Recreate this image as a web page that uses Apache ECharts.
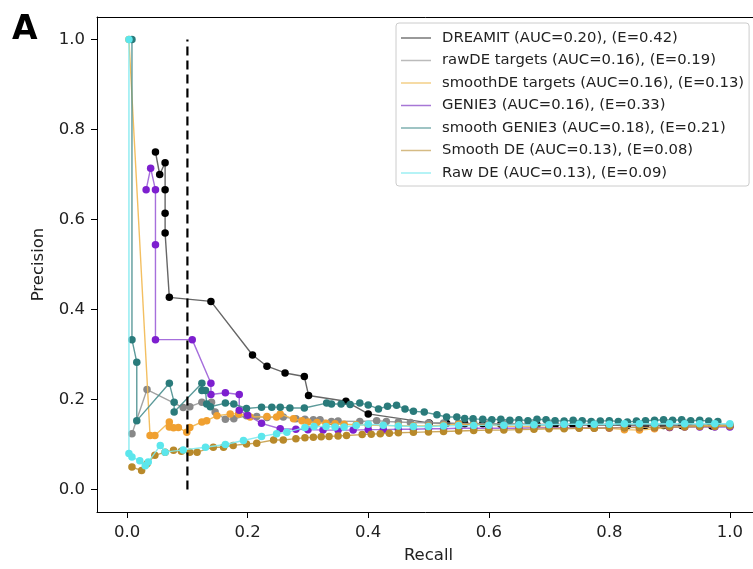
<!DOCTYPE html>
<html>
<head>
<meta charset="utf-8">
<script src="https://cdn.jsdelivr.net/npm/echarts@6/dist/echarts.min.js"></script>
<style>
html,body{margin:0;padding:0;background:#fff;}
#chart{width:753px;height:569px;}
</style>
</head>
<body>
<div id="chart"></div>
<script>
const tickValues = [0, 0.2, 0.4, 0.6, 0.8, 1.0];
const seriesNames = [
  'DREAMIT (AUC=0.20), (E=0.42)',
  'rawDE targets (AUC=0.16), (E=0.19)',
  'smoothDE targets (AUC=0.16), (E=0.13)',
  'GENIE3 (AUC=0.16), (E=0.33)',
  'smooth GENIE3 (AUC=0.18), (E=0.21)',
  'Smooth DE (AUC=0.13), (E=0.08)',
  'Raw DE (AUC=0.13), (E=0.09)'
];
const dreamit = [[0.047,0.75],[0.054,0.70],[0.063,0.726],[0.063,0.666],[0.063,0.614],[0.063,0.57],[0.070,0.427],[0.139,0.418],[0.208,0.299],[0.232,0.274],[0.262,0.259],[0.294,0.251],[0.301,0.209],[0.363,0.196],[0.400,0.168],[0.501,0.148],[0.53,0.147],[0.56,0.146],[0.59,0.146],[0.62,0.145],[0.65,0.145],[0.68,0.144],[0.71,0.144],[0.74,0.143],[0.77,0.143],[0.80,0.143],[0.83,0.142],[0.86,0.142],[0.89,0.142],[0.92,0.142],[0.95,0.141],[0.97,0.141],[1.0,0.141]];
const rawDETargets = [[0.008,0.124],[0.033,0.222],[0.093,0.182],[0.104,0.184],[0.124,0.194],[0.14,0.194],[0.146,0.172],[0.163,0.156],[0.177,0.157],[0.198,0.164],[0.215,0.162],[0.232,0.16],[0.259,0.161],[0.28,0.157],[0.295,0.156],[0.309,0.155],[0.32,0.155],[0.339,0.151],[0.35,0.152],[0.386,0.151],[0.414,0.153],[0.43,0.151],[0.45,0.15],[0.47,0.149],[0.5,0.148],[0.525,0.148],[0.55,0.147],[0.575,0.147],[0.6,0.146],[0.625,0.146],[0.65,0.146],[0.675,0.145],[0.7,0.145],[0.725,0.145],[0.75,0.145],[0.775,0.145],[0.8,0.145],[0.825,0.144],[0.85,0.144],[0.875,0.144],[0.9,0.144],[0.925,0.144],[0.95,0.144],[0.975,0.144],[1.0,0.144]];
const smoothDETargets = [[0.003,1.0],[0.038,0.12],[0.046,0.12],[0.07,0.15],[0.07,0.139],[0.077,0.137],[0.085,0.138],[0.099,0.127],[0.104,0.138],[0.124,0.15],[0.132,0.153],[0.149,0.164],[0.171,0.168],[0.185,0.168],[0.204,0.161],[0.232,0.162],[0.248,0.161],[0.254,0.168],[0.276,0.157],[0.29,0.153],[0.3,0.15],[0.315,0.149],[0.33,0.147],[0.345,0.146],[0.36,0.145],[0.38,0.144],[0.4,0.143],[0.425,0.142],[0.45,0.142],[0.475,0.141],[0.5,0.141],[0.525,0.143],[0.55,0.145],[0.575,0.144],[0.6,0.143],[0.625,0.141],[0.65,0.14],[0.675,0.139],[0.7,0.138],[0.725,0.137],[0.75,0.137],[0.775,0.136],[0.8,0.136],[0.825,0.133],[0.85,0.132],[0.875,0.135],[0.9,0.138],[0.925,0.14],[0.95,0.141],[0.975,0.142],[1.0,0.143]];
const genie3 = [[0.0315,0.666],[0.039,0.714],[0.047,0.666],[0.047,0.544],[0.047,0.333],[0.108,0.333],[0.139,0.236],[0.139,0.211],[0.163,0.215],[0.186,0.211],[0.186,0.176],[0.2,0.165],[0.223,0.147],[0.254,0.135],[0.28,0.134],[0.3,0.133],[0.325,0.132],[0.35,0.132],[0.375,0.132],[0.4,0.133],[0.425,0.133],[0.45,0.134],[0.475,0.134],[0.5,0.135],[0.525,0.135],[0.55,0.136],[0.575,0.136],[0.6,0.136],[0.625,0.136],[0.65,0.136],[0.675,0.137],[0.7,0.137],[0.725,0.137],[0.75,0.137],[0.775,0.137],[0.8,0.137],[0.825,0.138],[0.85,0.138],[0.875,0.138],[0.9,0.138],[0.925,0.139],[0.95,0.139],[0.975,0.139],[1.0,0.139]];
const smoothGenie3 = [[0.008,1.0],[0.008,0.333],[0.016,0.283],[0.016,0.153],[0.07,0.236],[0.078,0.194],[0.078,0.172],[0.124,0.236],[0.124,0.22],[0.13,0.22],[0.132,0.19],[0.138,0.184],[0.163,0.192],[0.177,0.19],[0.198,0.18],[0.223,0.183],[0.24,0.183],[0.254,0.183],[0.27,0.181],[0.294,0.181],[0.331,0.192],[0.339,0.19],[0.355,0.19],[0.37,0.189],[0.386,0.192],[0.4,0.188],[0.417,0.179],[0.432,0.185],[0.447,0.187],[0.461,0.179],[0.475,0.174],[0.493,0.172],[0.514,0.166],[0.53,0.161],[0.547,0.161],[0.56,0.158],[0.574,0.157],[0.59,0.156],[0.605,0.155],[0.62,0.156],[0.635,0.154],[0.65,0.155],[0.665,0.153],[0.68,0.156],[0.695,0.155],[0.71,0.153],[0.725,0.152],[0.74,0.154],[0.755,0.153],[0.77,0.151],[0.785,0.152],[0.80,0.153],[0.815,0.151],[0.83,0.15],[0.845,0.152],[0.86,0.153],[0.875,0.154],[0.89,0.155],[0.905,0.154],[0.92,0.155],[0.935,0.153],[0.95,0.154],[0.965,0.152],[0.98,0.151]];
const smoothDE = [[0.008,0.05],[0.024,0.042],[0.033,0.057],[0.046,0.076],[0.063,0.083],[0.077,0.087],[0.09,0.085],[0.104,0.083],[0.116,0.083],[0.143,0.094],[0.16,0.094],[0.176,0.098],[0.198,0.101],[0.215,0.103],[0.243,0.11],[0.259,0.11],[0.28,0.113],[0.295,0.115],[0.309,0.116],[0.322,0.117],[0.335,0.118],[0.35,0.119],[0.364,0.12],[0.39,0.122],[0.405,0.123],[0.42,0.124],[0.435,0.125],[0.45,0.126],[0.475,0.127],[0.5,0.128],[0.525,0.129],[0.55,0.13],[0.575,0.131],[0.6,0.132],[0.625,0.132],[0.65,0.133],[0.675,0.134],[0.7,0.135],[0.725,0.135],[0.75,0.136],[0.775,0.136],[0.8,0.137],[0.825,0.137],[0.85,0.138],[0.875,0.138],[0.9,0.139],[0.925,0.139],[0.95,0.14],[0.975,0.14],[1.0,0.141]];
const rawDE = [[0.003,1.0],[0.003,0.08],[0.008,0.072],[0.021,0.064],[0.03,0.053],[0.035,0.061],[0.055,0.098],[0.063,0.083],[0.093,0.088],[0.13,0.094],[0.163,0.1],[0.193,0.109],[0.223,0.118],[0.248,0.124],[0.265,0.127],[0.295,0.138],[0.31,0.14],[0.33,0.14],[0.345,0.139],[0.36,0.139],[0.38,0.142],[0.4,0.145],[0.425,0.143],[0.45,0.141],[0.475,0.14],[0.5,0.14],[0.525,0.141],[0.55,0.142],[0.575,0.142],[0.6,0.143],[0.625,0.143],[0.65,0.144],[0.675,0.144],[0.7,0.144],[0.725,0.145],[0.75,0.145],[0.775,0.145],[0.8,0.145],[0.825,0.146],[0.85,0.146],[0.875,0.146],[0.9,0.146],[0.925,0.146],[0.95,0.146],[0.975,0.146],[1.0,0.146]];
const cutoffLine = [[0.1,0.0],[0.1,1.0]];

const allData = [dreamit, rawDETargets, smoothDETargets, genie3, smoothGenie3, smoothDE, rawDE];
const markerColors = ['#000000','#888888','#f0a030','#7d1fcf','#2a7b7b','#b8892a','#5ce6ec'];
const lineColors = ['#555555','#999999','#f2b850','#9c5fd8','#4a8f8f','#c79e4a','#7eeaf0'];
const legendColors = ['#777777','#bbbbbb','#f3cf87','#a777d6','#7fb0b0','#d5bb84','#9deff3'];

const FONT = 'DejaVu Sans';
const chart = echarts.init(document.getElementById('chart'), null, {renderer:'canvas'});

const series = allData.map((d, i) => ({
  name: seriesNames[i],
  type: 'line',
  data: d,
  symbol: 'circle',
  symbolSize: 7.5,
  showSymbol: true,
  showAllSymbol: true,
  itemStyle: {color: markerColors[i]},
  lineStyle: {color: lineColors[i], width: 1.4, opacity: 0.9},
  z: 2 + i,
  animation: false,
  emphasis: {disabled: true}
}));
series.push({
  name: 'cutoff',
  type: 'line',
  data: cutoffLine,
  symbol: 'none',
  lineStyle: {color: '#000', width: 2.2, type: [9, 5]},
  z: 20,
  animation: false,
  emphasis: {disabled: true}
});

const axisCommon = {
  type: 'value',
  min: -0.05,
  max: 1.05,
  splitLine: {show: false},
  axisLine: {show: true, onZero: false, lineStyle: {color: '#000', width: 1}},
  axisTick: {show: true, length: 6, customValues: tickValues, lineStyle: {color: '#000'}},
  axisLabel: {customValues: tickValues, color: '#222', fontFamily: FONT, fontSize: 16.5, margin: 12,
    formatter: v => v.toFixed(1)},
  nameTextStyle: {color: '#222', fontFamily: FONT, fontSize: 16.5},
  nameLocation: 'middle'
};

chart.setOption({
  backgroundColor: '#fff',
  animation: false,
  grid: {left: 97, width: 663, top: 17, height: 495, outerBoundsMode: 'none', containLabel: false, show: false},
  xAxis: [
    Object.assign({}, axisCommon, {name: 'Recall', nameGap: 35, position: 'bottom'}),
    {type: 'value', position: 'top', min: -0.05, max: 1.05, splitLine: {show: false},
     axisLine: {show: true, onZero: false, lineStyle: {color: '#000', width: 1}},
     axisTick: {show: false}, axisLabel: {show: false}}
  ],
  yAxis: Object.assign({}, axisCommon, {name: 'Precision', nameGap: 50}),
  legend: {
    left: 396, top: 23, orient: 'vertical',
    data: seriesNames.map((n, i) => ({name: n, itemStyle: {color: legendColors[i]}})),
    icon: 'rect', itemWidth: 30, itemHeight: 1.5, itemGap: 6.5,
    padding: [7, 5, 5, 5],
    borderColor: '#cccccc', borderWidth: 1, borderRadius: 3,
    backgroundColor: '#fff',
    textStyle: {color: '#222', fontFamily: FONT, fontSize: 14.8, lineHeight: 16, padding: [0, 0, 0, 6]},
    selectedMode: false
  },
  graphic: [{type: 'text', left: 12, top: 14, style: {text: 'A', font: 'bold 33px "DejaVu Sans"', fill: '#000'}}],
  series: series
});
</script>
</body>
</html>
